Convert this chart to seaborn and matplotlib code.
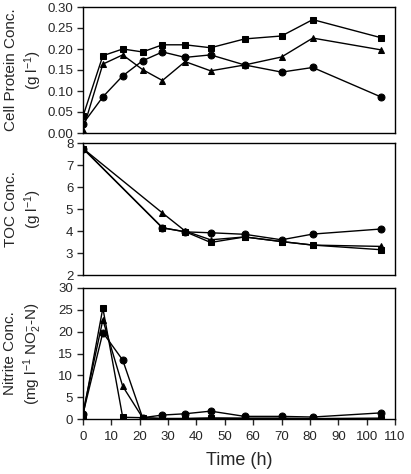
import numpy as np
import pandas as pd
import matplotlib
matplotlib.use("Agg")
import matplotlib.pyplot as plt
import seaborn as sns

# sampling times (h)
time = [0, 7, 14, 21, 28, 36, 45, 57, 70, 81, 105]
time_toc = [0, 28, 36, 45, 57, 70, 81, 105]

# cell protein (g/l)
protein_sq = [0.040, 0.184, 0.200, 0.193, 0.210, 0.210, 0.203, 0.224, 0.231, 0.270, 0.227]
protein_tri = [0.008, 0.164, 0.186, 0.151, 0.125, 0.170, 0.148, 0.162, 0.181, 0.226, 0.198]
protein_cir = [0.022, 0.086, 0.136, 0.172, 0.193, 0.180, 0.186, 0.162, 0.145, 0.156, 0.086]

# TOC (g/l)
toc_sq = [7.75, 4.14, 3.97, 3.48, 3.73, 3.52, 3.36, 3.15]
toc_tri = [7.75, 4.82, 4.00, 3.60, 3.73, 3.52, 3.36, 3.30]
toc_cir = [7.75, 4.15, 3.96, 3.92, 3.85, 3.60, 3.86, 4.09]

# nitrite (mg/l NO2-N)
nitrite_sq = [0.8, 25.4, 0.4, 0.3, 0.1, 0.1, 0.2, 0.1, 0.1, 0.0, 0.0]
nitrite_tri = [1.5, 22.7, 7.5, 0.3, 0.1, 0.1, 0.2, 0.2, 0.2, 0.1, 0.2]
nitrite_cir = [1.2, 19.8, 13.5, 0.3, 0.9, 1.2, 1.8, 0.6, 0.6, 0.45, 1.4]

sns.set_theme(style="ticks")
plt.rcParams['font.family'] = ['Liberation Sans', 'DejaVu Sans']
plt.rcParams['mathtext.fontset'] = 'custom'
plt.rcParams['mathtext.rm'] = 'Liberation Sans'
plt.rcParams['mathtext.default'] = 'regular'

fig = plt.figure(figsize=(4.11, 4.74), dpi=100)
W, H = 411.0, 474.0
left, right = 83 / W, 395 / W
ax1 = fig.add_axes([left, 1 - 133 / H, right - left, 126 / H])
ax2 = fig.add_axes([left, 1 - 275 / H, right - left, 132 / H])
ax3 = fig.add_axes([left, 1 - 419 / H, right - left, 131 / H])

markers = {'sq': 's', 'tri': '^', 'cir': 'o'}


def draw(ax, x, series):
    for key, vals in series.items():
        df = pd.DataFrame({'t': x, 'v': vals})
        sns.lineplot(data=df, x='t', y='v', ax=ax, color='black', lw=1.0,
                     marker=markers[key], markersize=5, markeredgecolor='black',
                     markerfacecolor='black')


draw(ax1, time, {'sq': protein_sq, 'tri': protein_tri, 'cir': protein_cir})
draw(ax2, time_toc, {'sq': toc_sq, 'tri': toc_tri, 'cir': toc_cir})
draw(ax3, time, {'sq': nitrite_sq, 'tri': nitrite_tri, 'cir': nitrite_cir})

for ax in (ax1, ax2, ax3):
    ax.set_xlim(0, 110)
    for s in ax.spines.values():
        s.set_linewidth(1.0)
        s.set_color('black')
    ax.tick_params(axis='y', direction='out', length=4, width=1, labelsize=9.5, pad=3)
    ax.set_xlabel('')

ax1.set_ylim(0, 0.30)
ax1.set_yticks(np.arange(0, 0.31, 0.05))
ax1.set_yticklabels([f"{v:.2f}" for v in np.arange(0, 0.31, 0.05)])
ax2.set_ylim(2, 8)
ax2.set_yticks(range(2, 9))
ax3.set_ylim(0, 30)
ax3.set_yticks(range(0, 31, 5))

for ax in (ax1, ax2):
    ax.set_xticks([])

ax3.set_xticks(range(0, 111, 10))
ax3.tick_params(axis='x', direction='out', length=4, width=1, labelsize=9.5, pad=5)
ax3.set_xlabel('Time (h)', fontsize=13, labelpad=6)

ax1.set_ylabel('Cell Protein Conc.\n(g l$^{-1}$)', fontsize=11, linespacing=1.3)
ax2.set_ylabel('TOC Conc.\n(g l$^{-1}$)', fontsize=11, linespacing=1.3)
ax3.set_ylabel('Nitrite Conc.\n(mg l$^{-1}$ NO$_2^{-}$-N)', fontsize=11, linespacing=1.3)
for ax in (ax1, ax2, ax3):
    ax.yaxis.set_label_coords(-0.125, 0.5)

fig.savefig('out.png', dpi=100)
